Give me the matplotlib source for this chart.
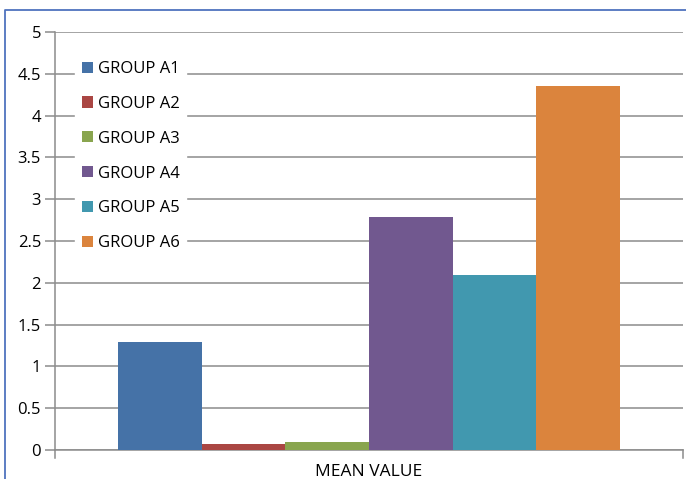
import matplotlib
matplotlib.use('Agg')
import matplotlib.pyplot as plt
from matplotlib.lines import Line2D

groups = ['GROUP A1', 'GROUP A2', 'GROUP A3', 'GROUP A4', 'GROUP A5', 'GROUP A6']
mean_values = [1.29, 0.07, 0.09, 2.79, 2.09, 4.35]
colors = ['#4572A7', '#AA4643', '#89A54E', '#71588F', '#4198AF', '#DB843D']
y_ticks = [0, 0.5, 1, 1.5, 2, 2.5, 3, 3.5, 4, 4.5, 5]
x_label = 'MEAN VALUE'

plt.rcParams['font.family'] = ['Open Sans', 'DejaVu Sans']

W, H = 686, 479
fig = plt.figure(figsize=(W / 100, H / 100), dpi=100)
ax = fig.add_axes([55 / W, 1 - 450 / H, 628 / W, 418 / H])

for i, (g, v, c) in enumerate(zip(groups, mean_values, colors)):
    ax.bar(i, v, width=1.0, color=c, label=g, zorder=3)

ax.set_xlim(-1.26, 6.26)
ax.set_ylim(0, 5)
ax.set_yticks(y_ticks)
ax.set_yticklabels(['%g' % t for t in y_ticks], fontsize=12)
ax.set_xticks([])
ax.grid(axis='y', color='#8c8c8c', linewidth=1.1, zorder=0)

for s in ['top', 'right']:
    ax.spines[s].set_visible(False)
for s in ['left', 'bottom']:
    ax.spines[s].set_color('#8c8c8c')
    ax.spines[s].set_linewidth(1.1)
ax.tick_params(axis='y', length=7, color='#8c8c8c', width=1.1, pad=3)

# small end ticks on the category axis
for xx in [0, 1]:
    ax.plot([xx, xx], [0, -0.02], transform=ax.transAxes, color='#8c8c8c',
            linewidth=1.1, clip_on=False)

leg = ax.legend(loc='upper left', bbox_to_anchor=(67 / W, 1 - 46 / H),
                bbox_transform=fig.transFigure, fontsize=12, frameon=True,
                facecolor='white', edgecolor='white', framealpha=1,
                fancybox=False, handlelength=0.65, handleheight=0.65,
                handletextpad=0.3, labelspacing=1.13, borderpad=0.4)
leg.set_zorder(5)

fig.text(369 / W, 1 - 476 / H, x_label, ha='center', va='baseline', fontsize=12.5)

# chart frame (only left and top edges visible in the crop)
fig.add_artist(Line2D([5 / W, 5 / W, 1.0], [0.0, 1 - 10 / H, 1 - 10 / H],
                      transform=fig.transFigure, color='#4F73BE', linewidth=1.3))

fig.savefig('out.png', dpi=100)
